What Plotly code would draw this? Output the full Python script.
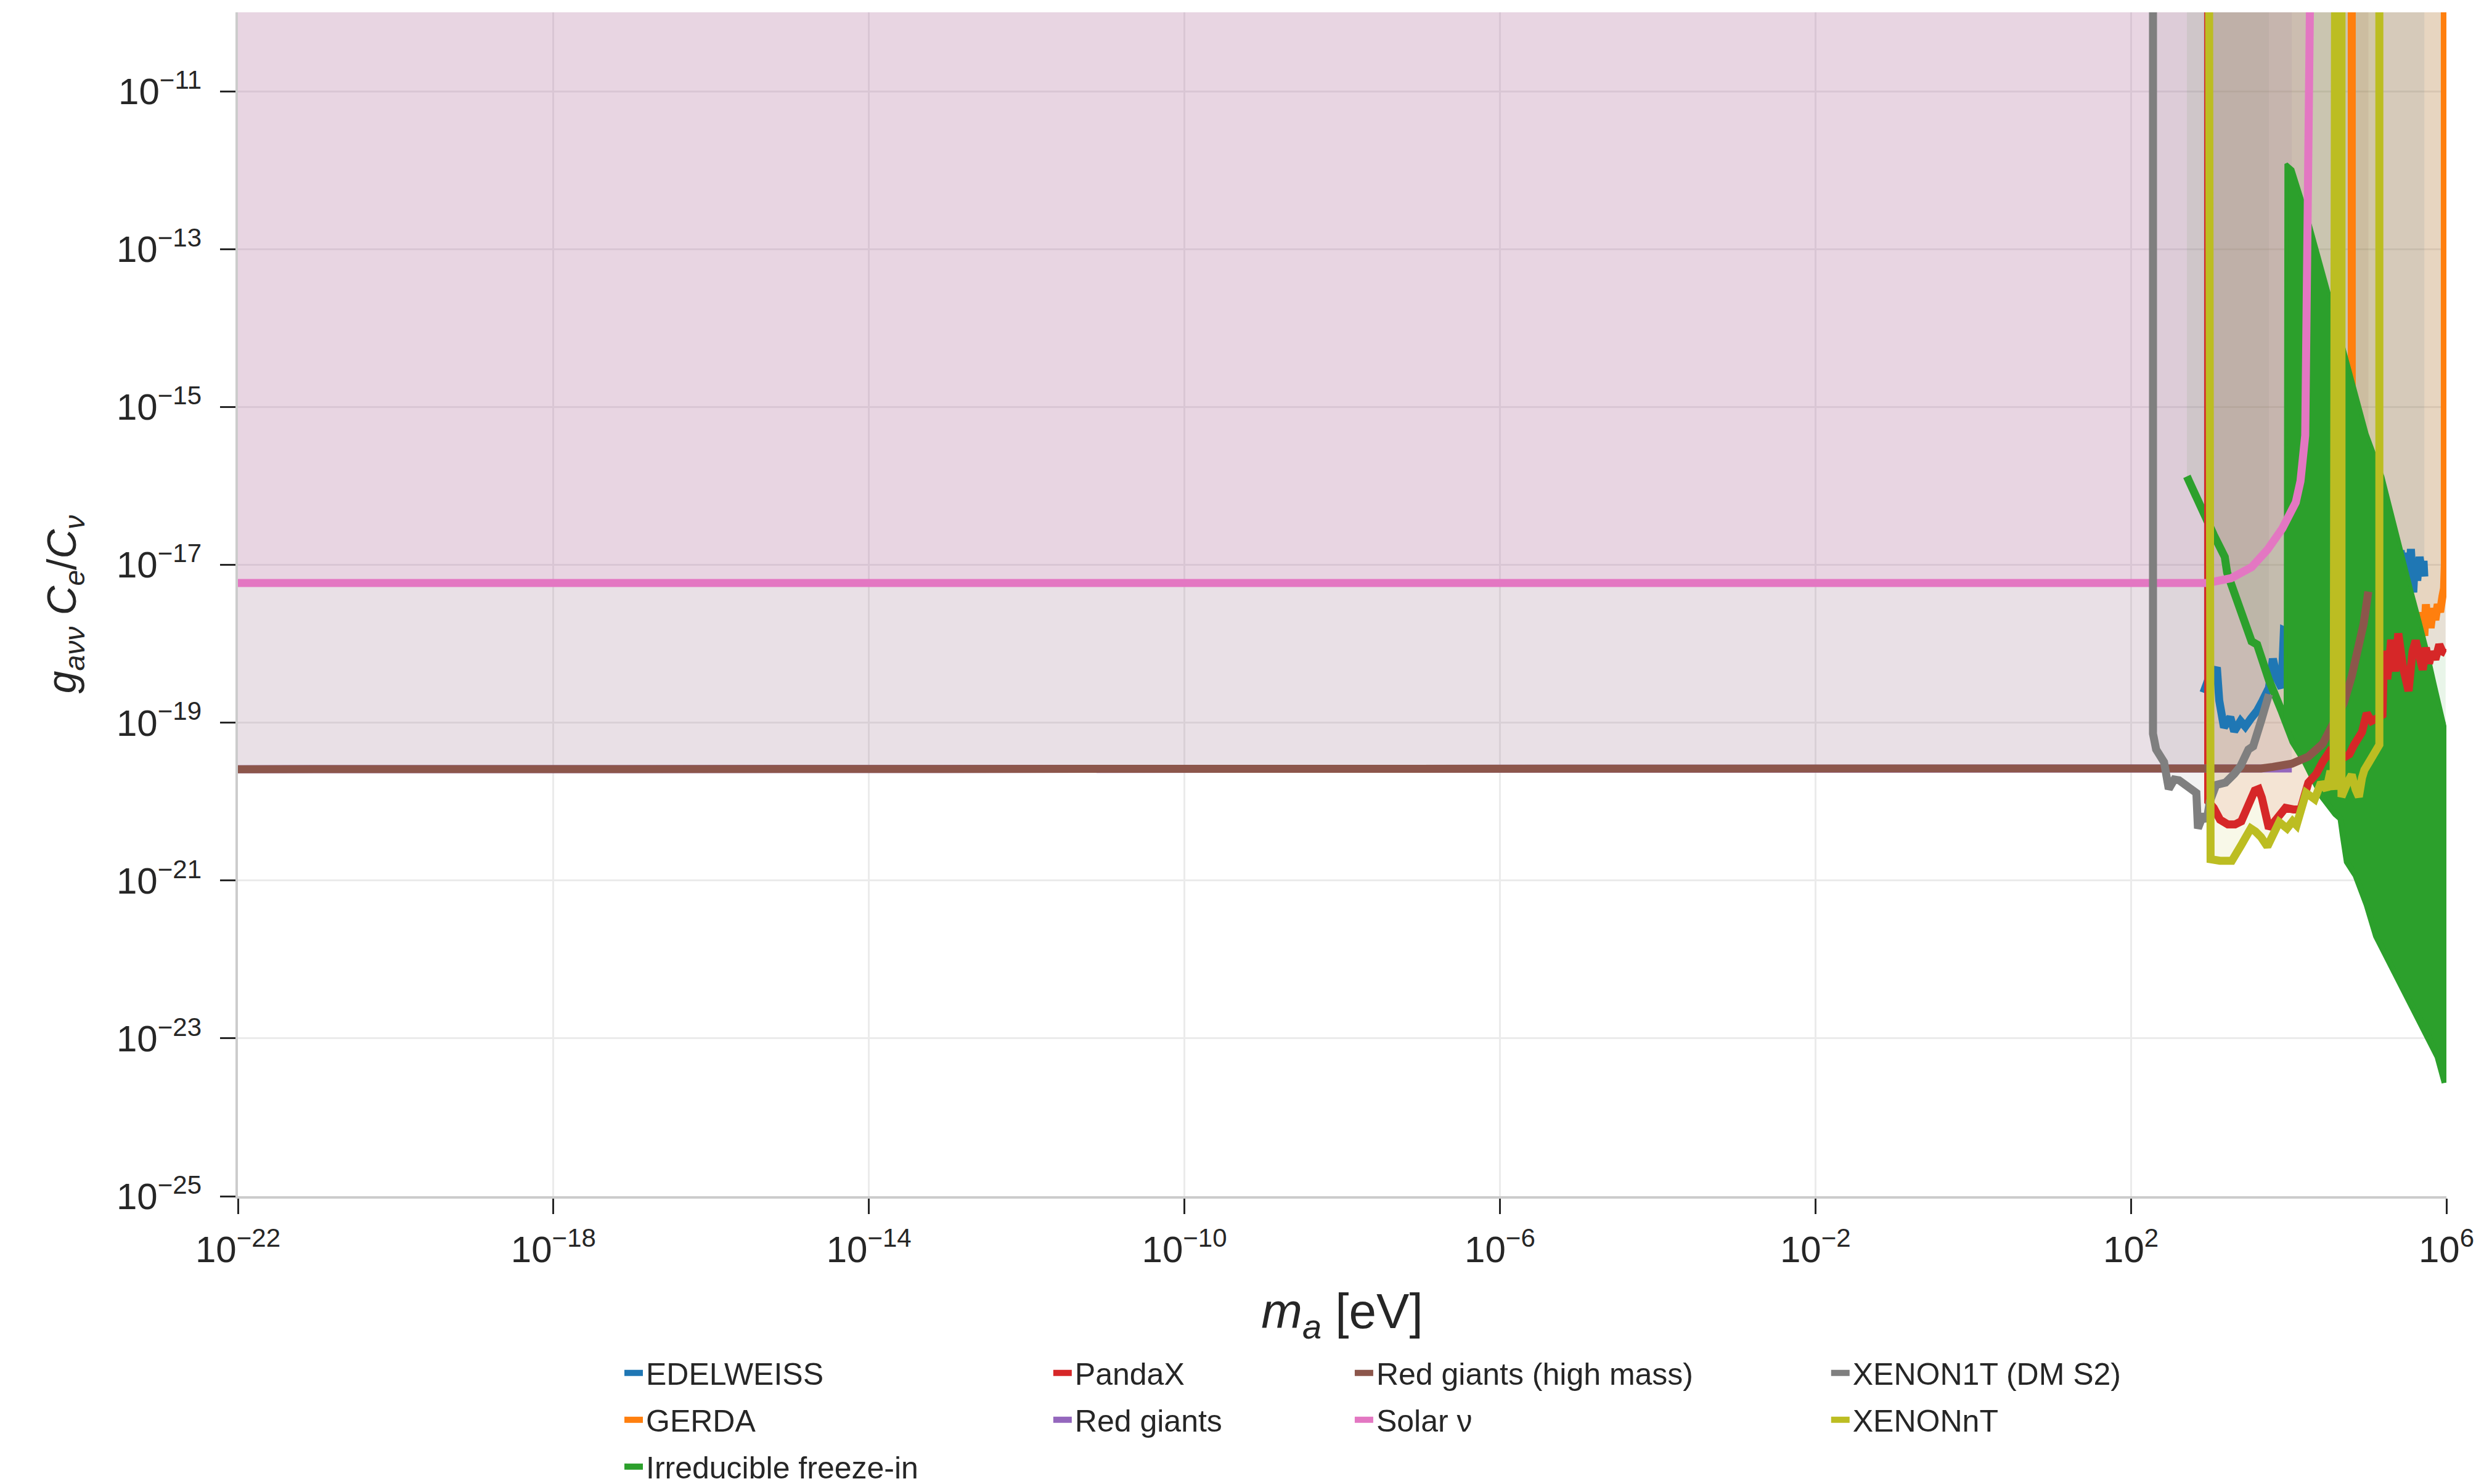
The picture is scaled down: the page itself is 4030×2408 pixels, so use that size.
import numpy as np
import plotly.graph_objects as go

# ---------------- data (log10 m_a [eV], log10 coupling) ----------------
ROOF = -9.0  # constraints are shaded up to (beyond) the top of the plot

edelweiss_logm = [2.92, 2.98, 3.04, 3.09, 3.12, 3.18, 3.26, 3.31, 3.39, 3.45, 3.52, 3.60, 3.67,
                  3.75, 3.80, 3.86, 3.91, 3.94, 4.10, 4.40, 4.70, 5.00, 5.20, 5.38, 5.42, 5.46,
                  5.50, 5.53, 5.55, 5.58, 5.60, 5.63, 5.66, 5.69, 5.71, 5.72]
edelweiss_logg = [-18.62, -18.46, -18.40, -18.30, -18.72, -19.06, -18.93, -19.11, -18.98, -19.05,
                  -18.95, -18.85, -18.72, -18.56, -18.19, -18.46, -18.56, -17.83, -17.90, -17.60,
                  -17.50, -17.30, -17.20, -17.00, -16.82, -17.10, -16.85, -17.30, -16.80, -17.35,
                  -16.95, -17.20, -16.90, -17.10, -16.95, -17.15]

gerda_logm = [4.80, 4.80, 4.90, 5.10, 5.30, 5.50, 5.66, 5.68, 5.70, 5.72, 5.74, 5.76, 5.78, 5.80,
              5.83, 5.86, 5.89, 5.92, 5.95, 5.97, 5.98, 5.98]
gerda_logg = [ROOF, -15.00, -15.80, -16.60, -17.20, -17.70, -17.95, -18.00, -17.60, -17.90, -17.50,
              -17.75, -17.55, -17.80, -17.55, -17.70, -17.50, -17.60, -17.40, -17.30, -17.00, ROOF]

freezein_logm = [2.71, 2.80, 2.95, 3.05, 3.19, 3.22, 3.32, 3.41, 3.44, 3.53, 3.60, 3.73, 3.75,
                 3.91, 3.96, 4.06, 4.22, 4.33, 4.44, 4.60, 4.67, 4.70, 4.75, 4.86, 5.00, 5.12,
                 5.30, 5.48, 5.64, 5.78, 5.90, 5.99]
freezein_logg = [-15.88, -16.08, -16.43, -16.62, -16.90, -17.10, -17.38, -17.64, -17.68, -17.97,
                 -18.01, -18.41, -18.46, -18.85, -19.00, -19.24, -19.50, -19.71, -19.94, -20.15,
                 -20.21, -20.43, -20.76, -20.93, -21.30, -21.70, -22.05, -22.41, -22.68, -22.95,
                 -23.23, -23.56]
# upper envelope of the rapidly oscillating freeze-in band
freezein_band_logm = [3.96, 3.97, 4.05, 4.18, 4.27, 4.54, 4.73, 4.99, 5.19, 5.27, 5.45, 5.55,
                      5.67, 5.76, 5.85, 5.99]
freezein_band_logg = [-19.00, -11.92, -11.99, -12.41, -12.69, -13.67, -14.36, -15.34, -15.88,
                      -16.20, -16.90, -17.30, -17.75, -18.10, -18.50, -19.10]

pandax_logm = [2.98, 2.98, 3.05, 3.13, 3.23, 3.32, 3.40, 3.49, 3.57, 3.62, 3.66, 3.75, 3.86, 3.96,
               4.06, 4.15, 4.25, 4.35, 4.43, 4.51, 4.60, 4.70, 4.77, 4.83, 4.93, 4.99, 5.05, 5.11,
               5.19, 5.21, 5.25, 5.30, 5.35, 5.39, 5.45, 5.52, 5.57, 5.61, 5.66, 5.70, 5.74, 5.78,
               5.82, 5.86, 5.91, 5.95, 5.99]
pandax_logg = [ROOF, -20.00, -20.08, -20.23, -20.29, -20.29, -20.25, -20.03, -19.86, -19.84, -19.95,
               -20.34, -20.19, -20.08, -20.10, -20.10, -19.76, -19.65, -19.50, -19.38, -19.50,
               -19.45, -19.40, -19.28, -19.12, -18.88, -18.98, -18.95, -18.90, -18.09, -18.45,
               -17.95, -18.35, -17.87, -18.30, -18.60, -18.10, -17.96, -18.20, -18.33, -18.05,
               -18.25, -18.10, -18.20, -18.01, -18.10, -18.12]

redgiants_logm = [-22.0, 3.50, 4.00, 4.04]
redgiants_logg = [-19.59, -19.59, -19.59, -19.58]

redgiants_hm_logm = [-22.0, 3.50, 3.65, 3.80, 4.04, 4.25, 4.43, 4.54, 4.70, 4.80, 4.88, 4.95, 5.01]
redgiants_hm_logg = [-19.59, -19.59, -19.58, -19.56, -19.52, -19.43, -19.27, -19.06, -18.75,
                     -18.41, -18.10, -17.75, -17.34]

solar_logm = [-22.0, 2.97, 3.27, 3.53, 3.73, 3.92, 4.09, 4.15, 4.21, 4.24, 4.28]
solar_logg = [-17.23, -17.23, -17.17, -17.03, -16.81, -16.54, -16.21, -15.94, -15.36, -12.60, ROOF]

xenon1t_logm = [2.28, 2.28, 2.32, 2.42, 2.48, 2.55, 2.61, 2.70, 2.76, 2.83, 2.85, 2.92, 2.96,
                3.00, 3.08, 3.20, 3.31, 3.39, 3.49, 3.55, 3.65, 3.70, 3.75]
xenon1t_logg = [ROOF, -19.14, -19.34, -19.50, -19.84, -19.72, -19.73, -19.80, -19.85, -19.89,
                -20.34, -20.16, -20.25, -20.00, -19.79, -19.76, -19.65, -19.55, -19.34, -19.30,
                -18.98, -18.80, -18.64]

xenonnt_logm = [2.99, 2.99, 3.01, 3.13, 3.28, 3.40, 3.52, 3.58, 3.65, 3.73, 3.80, 3.88, 3.98,
                4.05, 4.10, 4.22, 4.33, 4.41, 4.48, 4.53, 4.57, 4.59, 4.67, 4.67, 4.75, 4.80,
                4.85, 4.89, 4.93, 4.96, 5.02, 5.09, 5.13, 5.15, 5.15]
xenonnt_logg = [ROOF, -20.70, -20.73, -20.75, -20.75, -20.55, -20.34, -20.38, -20.45, -20.57,
                -20.40, -20.26, -20.34, -20.25, -20.30, -19.89, -19.97, -19.76, -19.85, -19.61,
                -19.85, ROOF, ROOF, -19.94, -19.75, -19.66, -19.85, -19.94, -19.70, -19.60,
                -19.50, -19.39, -19.30, -19.28, ROOF]

x_tick_exps = [-22, -18, -14, -10, -6, -2, 2, 6]
y_tick_exps = [-25, -23, -21, -19, -17, -15, -13, -11]

# ---------------- styling ----------------
FONT = "Liberation Sans, Arial, sans-serif"
TXT = "#262626"
LW = 13

series = [
    ("EDELWEISS", edelweiss_logm, edelweiss_logg, "#1f77b4", "legend"),
    ("GERDA", gerda_logm, gerda_logg, "#ff7f0e", "legend"),
    ("Irreducible freeze-in", freezein_logm, freezein_logg, "#2ca02c", "legend"),
    ("PandaX", pandax_logm, pandax_logg, "#d62728", "legend2"),
    ("Red giants", redgiants_logm, redgiants_logg, "#9467bd", "legend2"),
    ("Red giants (high mass)", redgiants_hm_logm, redgiants_hm_logg, "#8c564b", "legend3"),
    ("Solar ν", solar_logm, solar_logg, "#e377c2", "legend3"),
    ("XENON1T (DM S2)", xenon1t_logm, xenon1t_logg, "#7f7f7f", "legend4"),
    ("XENONnT", xenonnt_logm, xenonnt_logg, "#bcbd22", "legend4"),
]


def rgba(hexcol, a):
    h = hexcol.lstrip("#")
    r, g, b = int(h[0:2], 16), int(h[2:4], 16), int(h[4:6], 16)
    return f"rgba({r},{g},{b},{a})"


def p10(v):
    return np.power(10.0, np.asarray(v, dtype=float))


fig = go.Figure()

# shaded exclusion regions (curve up to the top)
for name, lm, lg, col, _ in series:
    px = list(lm) + [lm[-1], lm[0]]
    py = list(lg) + [ROOF, ROOF]
    fig.add_trace(go.Scatter(
        x=p10(px), y=p10(py), mode="lines", fill="toself",
        fillcolor=rgba(col, 0.1), line=dict(width=0, color=rgba(col, 0)),
        hoverinfo="skip", showlegend=False))

# limit curves
for name, lm, lg, col, leg in series:
    fig.add_trace(go.Scatter(
        x=p10(lm), y=p10(lg), mode="lines", name=name,
        line=dict(color=col, width=LW, shape="linear"),
        legend=leg, legendgroup=name))
    if name == "Irreducible freeze-in":
        lower_m = [m for m in freezein_logm if m >= freezein_band_logm[0]]
        lower_g = [g for m, g in zip(freezein_logm, freezein_logg) if m >= freezein_band_logm[0]]
        bx = list(freezein_band_logm) + lower_m[::-1]
        by = list(freezein_band_logg) + lower_g[::-1]
        fig.add_trace(go.Scatter(
            x=p10(bx), y=p10(by), mode="lines", fill="toself",
            fillcolor=col, line=dict(color=col, width=6),
            hoverinfo="skip", showlegend=False, legendgroup=name, legend=leg))


def sup(e):
    return "10<sup>" + ("−" if e < 0 else "") + str(abs(e)) + "</sup>"


axis_common = dict(
    type="log", showline=True, linecolor="#cccccc", linewidth=4, mirror=False,
    showgrid=True, gridcolor="#ebebeb", gridwidth=3, zeroline=False,
    ticks="outside", ticklen=25, tickwidth=3, tickcolor=TXT,
    tickfont=dict(family=FONT, size=60, color=TXT),
)

fig.update_xaxes(
    **axis_common, range=[-22, 6], ticklabelstandoff=6,
    tickvals=p10(x_tick_exps), ticktext=[sup(e) for e in x_tick_exps],
    title=dict(text="<i>m</i><sub><i>a</i></sub> [eV]",
               font=dict(family=FONT, size=80, color=TXT), standoff=40),
)
fig.update_yaxes(
    **axis_common, range=[-25, -10], ticklabelstandoff=18,
    tickvals=p10(y_tick_exps), ticktext=[sup(e) for e in y_tick_exps],
    title=dict(text="<i>g</i><sub><i>aνν</i></sub> <i>C</i><sub><i>e</i></sub>/<i>C</i><sub><i>ν</i></sub>",
               font=dict(family=FONT, size=66, color=TXT), standoff=45),
)

leg_common = dict(
    xanchor="left", yanchor="top", orientation="v", y=-0.129,
    font=dict(family=FONT, size=50, color=TXT), bgcolor="rgba(0,0,0,0)",
    borderwidth=0, tracegroupgap=8,
)

fig.update_layout(
    width=4030, height=2408,
    paper_bgcolor="white", plot_bgcolor="white",
    margin=dict(l=378, r=69, t=12, b=475, autoexpand=False),
    font=dict(family=FONT, color=TXT),
    legend=dict(**leg_common, x=0.1736),
    legend2=dict(**leg_common, x=0.3678),
    legend3=dict(**leg_common, x=0.5043),
    legend4=dict(**leg_common, x=0.7200),
    showlegend=True,
)

fig.write_html("out.html")
